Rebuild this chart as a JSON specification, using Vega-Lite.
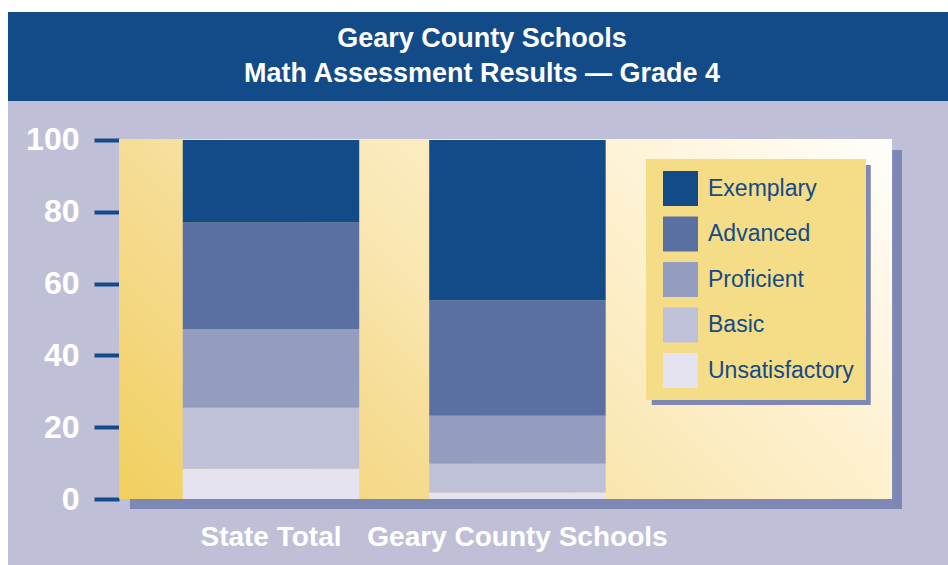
{
  "$schema": "https://vega.github.io/schema/vega-lite/v6.json",
  "background": "white",
  "padding": {"left": 8, "top": 12, "right": 0, "bottom": 0},
  "spacing": 0,
  "vconcat": [
    {
      "width": 940,
      "height": 89,
      "view": {"fill": "#134a88", "stroke": null},
      "data": {"values": [{"line": "Geary County Schools"}, {"line": "Math Assessment Results — Grade 4"}]},
      "mark": {"type": "text", "color": "white", "font": "Liberation Sans", "fontWeight": "bold", "fontSize": 27, "dx": 4, "baseline": "middle"},
      "encoding": {
        "y": {"field": "line", "type": "ordinal", "sort": null, "scale": {"type": "point", "padding": 0.754}, "axis": null},
        "text": {"field": "line"}
      }
    },
    {
      "width": 940,
      "height": 464,
      "view": {"fill": "#bfc0d8", "stroke": null},
      "layer": [
        {
          "data": {"values": [{}]},
          "mark": {"type": "bar", "color": "#7d88b5"},
          "encoding": {
            "x": {"datum": "shadow", "type": "nominal", "scale": {"domain": ["shadow"], "paddingInner": 0, "paddingOuter": 0.1088, "align": 0.726, "round": false}, "axis": null},
            "y": {"datum": 97.21, "type": "quantitative"},
            "y2": {"datum": -2.79}
          }
        },
        {
          "data": {"values": [{}]},
          "mark": {"type": "bar", "color": {"gradient": "linear", "x1": 0, "y1": 1, "x2": 1.205, "y2": 0.441, "stops": [
            {"offset": 0, "color": "#f1cf5e"},
            {"offset": 0.25, "color": "#f5da8c"},
            {"offset": 0.32, "color": "#f6dd96"},
            {"offset": 0.45, "color": "#f9e6b0"},
            {"offset": 0.68, "color": "#fdf0cd"},
            {"offset": 1, "color": "#fffefb"}
          ]}},
          "encoding": {
            "x": {"datum": "plot", "type": "nominal", "scale": {"domain": ["plot"], "paddingInner": 0, "paddingOuter": 0.108, "align": 0.665, "round": false}, "axis": null},
            "y": {"datum": 100.28, "type": "quantitative"},
            "y2": {"datum": 0}
          }
        },
        {
          "data": {"values": [{}]},
          "mark": {"type": "bar", "color": "#7d88b5", "width": {"band": 0.699}},
          "encoding": {
            "x": {"datum": "legend", "type": "nominal", "scale": {"domain": ["legend"], "paddingInner": 0, "paddingOuter": 1, "align": 0.952, "round": false}, "axis": null},
            "y": {"datum": 93.04, "type": "quantitative"},
            "y2": {"datum": 26.18}
          }
        },
        {
          "data": {"values": [
            {"group": "State Total", "level": "Unsatisfactory", "rank": 1, "pct": 8.4},
            {"group": "State Total", "level": "Basic", "rank": 2, "pct": 17.0},
            {"group": "State Total", "level": "Proficient", "rank": 3, "pct": 21.9},
            {"group": "State Total", "level": "Advanced", "rank": 4, "pct": 29.7},
            {"group": "State Total", "level": "Exemplary", "rank": 5, "pct": 23.0},
            {"group": "Geary County Schools", "level": "Unsatisfactory", "rank": 1, "pct": 1.8},
            {"group": "Geary County Schools", "level": "Basic", "rank": 2, "pct": 8.0},
            {"group": "Geary County Schools", "level": "Proficient", "rank": 3, "pct": 13.4},
            {"group": "Geary County Schools", "level": "Advanced", "rank": 4, "pct": 32.1},
            {"group": "Geary County Schools", "level": "Exemplary", "rank": 5, "pct": 44.7}
          ]},
          "mark": {"type": "bar", "width": {"band": 0.716}},
          "encoding": {
            "x": {"field": "group", "type": "nominal", "sort": ["State Total", "Geary County Schools"],
                  "scale": {"paddingInner": 0, "paddingOuter": 0.907, "align": 0.3126, "round": false},
                  "axis": {"title": null, "orient": "bottom", "offset": -66}},
            "y": {"field": "pct", "type": "quantitative", "stack": "zero",
                  "scale": {"domain": [-18.38, 110.86], "nice": false, "zero": false},
                  "axis": {"title": null, "values": [0, 20, 40, 60, 80, 100], "offset": -111}},
            "color": {"field": "level", "type": "nominal",
                      "scale": {"domain": ["Exemplary", "Advanced", "Proficient", "Basic", "Unsatisfactory"],
                                "range": ["#134a88", "#5a70a2", "#949cc0", "#bfc1d9", "#e4e3ef"]},
                      "legend": {"orient": "none", "legendX": 638, "legendY": 147, "title": null}},
            "order": {"field": "rank", "type": "quantitative", "sort": "ascending"}
          }
        }
      ],
      "resolve": {"scale": {"x": "independent"}}
    }
  ],
  "config": {
    "view": {"stroke": null},
    "axisY": {"domain": false, "grid": false, "ticks": true, "tickSize": 25, "tickWidth": 4, "tickColor": "#134a88",
              "labelColor": "white", "labelFont": "Liberation Sans", "labelFontWeight": "bold", "labelFontSize": 32, "labelPadding": 15},
    "axisX": {"domain": false, "grid": false, "ticks": false, "tickSize": 0, "labelAngle": 0, "labelLimit": 400,
              "labelColor": "white", "labelFont": "Liberation Sans", "labelFontWeight": "bold", "labelFontSize": 28, "labelPadding": 24},
    "legend": {"fillColor": "#f5dc86", "padding": 12, "symbolType": "square", "symbolSize": 1225, "symbolStrokeWidth": 0,
               "symbolOpacity": 1, "symbolOffset": 5, "labelFont": "Liberation Sans", "labelFontSize": 23, "labelColor": "#134a88",
               "labelOffset": 10, "rowPadding": 10.5, "labelLimit": 300}
  }
}
